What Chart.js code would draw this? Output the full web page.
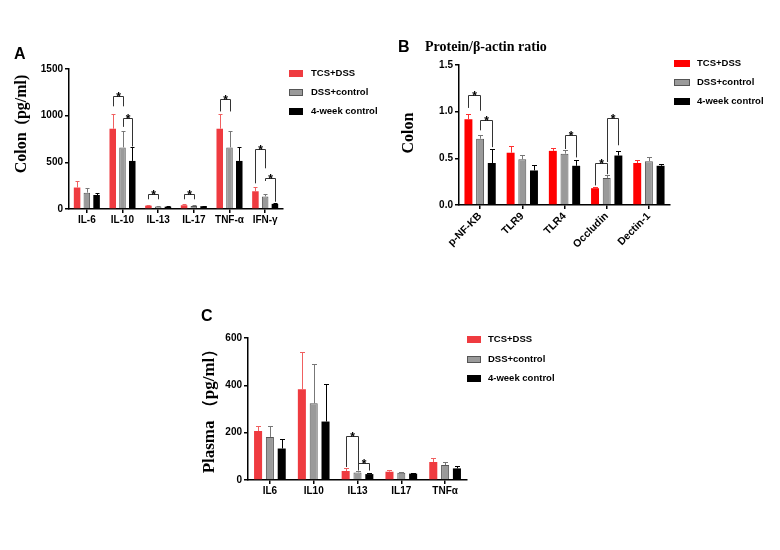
<!DOCTYPE html>
<html><head><meta charset="utf-8">
<script src="https://cdn.jsdelivr.net/npm/chart.js@4"></script>
<style>
body{margin:0;width:780px;height:550px;background:#fff;position:relative;overflow:hidden;font-family:'Liberation Sans',Arial,sans-serif}
canvas{position:absolute}
.t{position:absolute;white-space:nowrap;color:#000}
.letter{font:bold 16px 'Liberation Sans',Arial,sans-serif}
.ttl{font:bold 14px 'Liberation Serif','Times New Roman',serif}
.yt{position:absolute;white-space:nowrap;font:bold 16px 'Liberation Serif','Times New Roman',serif;transform:translate(-50%,-50%) rotate(-90deg)}
.lbox{position:absolute;box-sizing:border-box}
.ltxt{position:absolute;white-space:nowrap;font:bold 9.5px 'Liberation Sans',Arial,sans-serif;line-height:12px}
</style>
</head><body>
<canvas id="cA" width="300" height="200" style="left:0px;top:40px"></canvas>
<canvas id="cB" width="300" height="235" style="left:390px;top:30px"></canvas>
<canvas id="cC" width="300" height="210" style="left:180px;top:300px"></canvas>
<div class="t letter" style="left:14px;top:45px">A</div>
<div class="t letter" style="left:398px;top:38px">B</div>
<div class="t ttl" style="left:425px;top:39px">Protein/β-actin ratio</div>
<div class="t letter" style="left:201px;top:307px">C</div>
<div class="yt" style="left:21px;top:124px">Colon&nbsp;&nbsp;(pg/ml)</div>
<div class="yt" style="left:408px;top:133px">Colon</div>
<div class="yt" style="left:208px;top:407px;font-size:17px">Plasma （pg/ml）</div>
<div id="legends"></div>
<script>
// ---- data ----
const seriesNames = ['TCS+DSS', 'DSS+control', '4-week control'];

const categoriesA = ['IL-6', 'IL-10', 'IL-13', 'IL-17', 'TNF-α', 'IFN-γ'];
const tcsA = [230, 860, 36, 40, 860, 190];
const tcsErrA = [70, 160, 8, 10, 160, 50];
const dssA = [175, 660, 28, 32, 660, 135];
const dssErrA = [45, 180, 6, 8, 180, 30];
const ctlA = [150, 515, 25, 30, 515, 55];
const ctlErrA = [25, 145, 5, 6, 145, 10];
const yTicksA = [0, 500, 1000, 1500];
// [category, fromSeries, toSeries, topValue, leftLegEnd, rightLegEnd]
const bracketsA = [[1,0,1,1215,1100,1100],[1,1,2,980,880,670],[2,0,1,161,104,104],[3,0,1,161,104,104],[4,0,1,1175,1045,1045],[5,0,1,640,275,436],[5,1,2,336,300,78]];

const categoriesB = ['p-NF-KB', 'TLR9', 'TLR4', 'Occludin', 'Dectin-1'];
const tcsB = [0.92, 0.56, 0.58, 0.18, 0.45];
const tcsErrB = [0.055, 0.07, 0.03, 0.015, 0.03];
const dssB = [0.71, 0.49, 0.55, 0.29, 0.47];
const dssErrB = [0.035, 0.045, 0.035, 0.03, 0.04];
const ctlB = [0.45, 0.37, 0.42, 0.53, 0.42];
const ctlErrB = [0.15, 0.055, 0.06, 0.05, 0.02];
const yTicksB = [0, 0.5, 1.0, 1.5];
const bracketsB = [[0,0,1,1.18,1.04,1.01],[0,1,2,0.91,0.80,0.62],[2,1,2,0.745,0.60,0.51],[3,0,1,0.45,0.21,0.33],[3,1,2,0.93,0.46,0.64]];

const categoriesC = ['IL6', 'IL10', 'IL13', 'IL17', 'TNFα'];
const tcsC = [207, 383, 38, 35, 76];
const tcsErrC = [22, 157, 11, 6, 15];
const dssC = [182, 324, 32, 31, 63];
const dssErrC = [47, 167, 4, 4, 14];
const ctlC = [133, 247, 25, 27, 49];
const ctlErrC = [41, 160, 3, 4, 10];
const yTicksC = [0, 200, 400, 600];
const bracketsC = [[2,0,1,185,55,40],[2,1,2,72,48,40]];

// ---- drawing ----
const overlay = {
  id: 'overlay',
  afterDatasetsDraw(chart, args, o) {
    const ctx = chart.ctx, ys = chart.scales.y;
    ctx.save();
    o.errors.forEach((errs, di) => {
      const meta = chart.getDatasetMeta(di);
      ctx.strokeStyle = o.errColors[di];
      ctx.lineWidth = 1;
      meta.data.forEach((bar, i) => {
        const v = chart.data.datasets[di].data[i];
        const yt = Math.round(ys.getPixelForValue(v + errs[i])) + 0.5;
        const x = Math.round(bar.x) + 0.5;
        ctx.beginPath();
        ctx.moveTo(x, bar.y); ctx.lineTo(x, yt);
        ctx.moveTo(x - o.cap, yt); ctx.lineTo(x + o.cap, yt);
        ctx.stroke();
      });
    });
    ctx.strokeStyle = '#333'; ctx.fillStyle = '#000'; ctx.lineWidth = 1;
    ctx.font = 'bold 12px "Liberation Sans", Arial, sans-serif';
    ctx.textAlign = 'center'; ctx.textBaseline = 'alphabetic';
    o.brackets.forEach(b => {
      const x1 = Math.round(chart.getDatasetMeta(b[1]).data[b[0]].x) + 0.5;
      const x2 = Math.round(chart.getDatasetMeta(b[2]).data[b[0]].x) + 0.5;
      const yt = Math.round(ys.getPixelForValue(b[3])) + 0.5;
      const yl = ys.getPixelForValue(b[4]);
      const yr = ys.getPixelForValue(b[5]);
      ctx.beginPath();
      ctx.moveTo(x1, yl); ctx.lineTo(x1, yt); ctx.lineTo(x2, yt); ctx.lineTo(x2, yr);
      ctx.stroke();
      ctx.fillText('*', (x1 + x2) / 2, yt + 4);
    });
    ctx.restore();
  }
};

function makeChart(id, p) {
  const tickFont = {family: "'Liberation Sans', Arial, sans-serif", weight: 'bold', size: 10};
  const xFont = {family: "'Liberation Sans', Arial, sans-serif", weight: 'bold', size: p.xFontSize};
  const ds = [p.tcs, p.dss, p.ctl].map((d, i) => ({
    label: seriesNames[i], data: d,
    backgroundColor: p.colors[i],
    borderColor: i === 1 ? '#555' : p.colors[i],
    borderWidth: i === 1 ? 1 : 0,
    categoryPercentage: p.catPct, barPercentage: p.barPct
  }));
  return new Chart(document.getElementById(id), {
    type: 'bar',
    data: {labels: p.labels, datasets: ds},
    plugins: [overlay],
    options: {
      responsive: false, animation: false, devicePixelRatio: 1,
      layout: {padding: {left: 0, top: p.padTop, right: p.padRight, bottom: 0}},
      plugins: {
        legend: {display: false}, tooltip: {enabled: false},
        overlay: {errors: [p.tcsErr, p.dssErr, p.ctlErr], errColors: p.errColors, brackets: p.brackets, cap: p.cap}
      },
      scales: {
        x: {
          grid: {display: true, drawOnChartArea: false, offset: false, tickLength: 4, color: '#000', lineWidth: 1.5},
          border: {color: '#000', width: 1.5},
          ticks: {color: '#000', font: xFont, padding: 1, autoSkip: false, minRotation: p.rot, maxRotation: p.rot},
          afterFit: s => { s.height = p.xH; }
        },
        y: {
          min: 0, max: p.yTicks[p.yTicks.length - 1],
          afterBuildTicks: s => { s.ticks = p.yTicks.map(v => ({value: v})); },
          grid: {drawOnChartArea: false, tickLength: 4, color: '#000', lineWidth: 1.5},
          border: {color: '#000', width: 1.5},
          ticks: {color: '#000', font: tickFont, padding: 2, callback: v => p.fmt(v)},
          afterFit: s => { s.width = p.yW; }
        }
      }
    }
  });
}

const redA = '#ef3b40', gray = '#9a9a9a', black = '#000';
makeChart('cA', {labels: categoriesA, tcs: tcsA, dss: dssA, ctl: ctlA, tcsErr: tcsErrA, dssErr: dssErrA, ctlErr: ctlErrA,
  brackets: bracketsA, yTicks: yTicksA, fmt: v => String(v), colors: [redA, gray, black], errColors: ['#f06060', '#777', '#000'],
  catPct: 0.82, barPct: 0.67, padTop: 29, padRight: 17, xH: 31, yW: 69, rot: 0, cap: 2, xFontSize: 10});
makeChart('cB', {labels: categoriesB, tcs: tcsB, dss: dssB, ctl: ctlB, tcsErr: tcsErrB, dssErr: dssErrB, ctlErr: ctlErrB,
  brackets: bracketsB, yTicks: yTicksB, fmt: v => v.toFixed(1), colors: ['#ff0000', gray, black], errColors: ['#ff3030', '#777', '#000'],
  catPct: 0.83, barPct: 0.68, padTop: 35, padRight: 20, xH: 60, yW: 69, rot: 45, cap: 2.5, xFontSize: 10.5});
makeChart('cC', {labels: categoriesC, tcs: tcsC, dss: dssC, ctl: ctlC, tcsErr: tcsErrC, dssErr: dssErrC, ctlErr: ctlErrC,
  brackets: bracketsC, yTicks: yTicksC, fmt: v => String(v), colors: [redA, gray, black], errColors: ['#f06060', '#777', '#000'],
  catPct: 0.81, barPct: 0.68, padTop: 38, padRight: 13, xH: 30, yW: 68, rot: 0, cap: 2.5, xFontSize: 10});

// ---- legends (HTML text) ----
const legendSpecs = [
  {x: 289, w: 14, tx: 311, rows: [73, 92, 111], colors: [redA, gray, black]},
  {x: 674, w: 16, tx: 697, rows: [63, 82, 101], colors: ['#ff0000', gray, black]},
  {x: 467, w: 14, tx: 488, rows: [339, 359, 378], colors: [redA, gray, black]}
];
const lg = document.getElementById('legends');
legendSpecs.forEach(s => {
  seriesNames.forEach((n, i) => {
    const b = document.createElement('div');
    b.className = 'lbox';
    b.style.cssText = `left:${s.x}px;top:${s.rows[i]-3}px;width:${s.w}px;height:7px;background:${s.colors[i]};` + (i === 1 ? 'border:1px solid #555;' : '');
    lg.appendChild(b);
    const t = document.createElement('div');
    t.className = 'ltxt';
    t.style.cssText = `left:${s.tx}px;top:${s.rows[i]-6}px;`;
    t.textContent = n;
    lg.appendChild(t);
  });
});
</script>
</body></html>
